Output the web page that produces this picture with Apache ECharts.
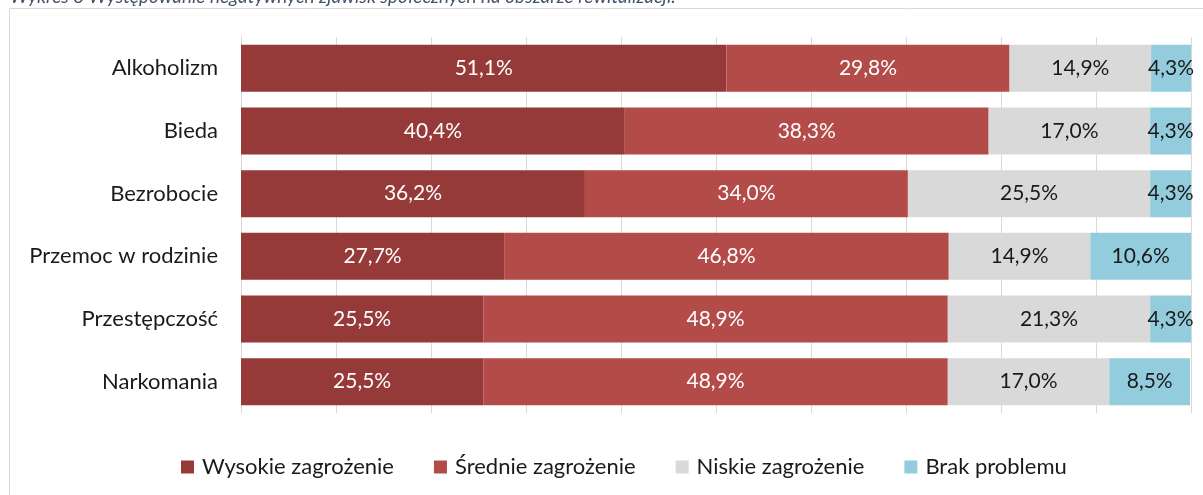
<!DOCTYPE html>
<html>
<head>
<meta charset="utf-8">
<script src="https://cdn.jsdelivr.net/npm/echarts@6/dist/echarts.min.js"></script>
<style>
  html, body { margin: 0; padding: 0; background: #fff; }
  #chart { width: 1203px; height: 495px; }
</style>
</head>
<body>
<div id="chart"></div>
<script>
const categories = ["Alkoholizm", "Bieda", "Bezrobocie", "Przemoc w rodzinie", "Przestępczość", "Narkomania"];
const wysokie = [51.1, 40.4, 36.2, 27.7, 25.5, 25.5];
const srednie = [29.8, 38.3, 34.0, 46.8, 48.9, 48.9];
const niskie = [14.9, 17.0, 25.5, 14.9, 21.3, 17.0];
const brak = [4.3, 4.3, 4.3, 10.6, 4.3, 8.5];
const titleText = "Wykres 8 Występowanie negatywnych zjawisk społecznych na obszarze rewitalizacji.";

const font = "Lato";
const mychart = echarts.init(document.getElementById("chart"));

// etykieta z przecinkiem dziesiętnym
const fmt = (p) => p.value.toFixed(1).replace(".", ",") + "%";

const makeSeries = (name, data, color, labelColor) => ({
  name: name,
  type: "bar",
  stack: "total",
  data: data,
  barCategoryGap: "25%",
  itemStyle: { color: color },
  label: {
    show: true,
    position: "inside",
    formatter: fmt,
    color: labelColor,
    fontFamily: font,
    fontSize: 21,
  },
});

const option = {
  animation: false,
  graphic: [
    {
      type: "rect",
      shape: { x: 9.5, y: 8.5, width: 1210, height: 500 },
      style: { fill: "none", stroke: "#d9d9d9", lineWidth: 1 },
    },
    {
      type: "text",
      left: 10,
      top: -13,
      style: {
        text: titleText,
        fill: "#44546a",
        fontFamily: font,
        fontStyle: "italic",
        fontSize: 19,
      },
    },
  ],
  grid: {
    left: 241,
    right: 12,
    top: 37,
    bottom: 82,
  },
  legend: {
    bottom: 12,
    left: 176,
    icon: "rect",
    itemWidth: 13,
    itemHeight: 13,
    itemGap: 40,
    textStyle: { fontFamily: font, fontSize: 22, color: "#1a1a1a", padding: [0, 0, 0, 3] },
    data: ["Wysokie zagrożenie", "Średnie zagrożenie", "Niskie zagrożenie", "Brak problemu"],
  },
  xAxis: {
    type: "value",
    min: 0,
    max: 100,
    interval: 10,
    axisLabel: { show: false },
    axisLine: { show: false },
    axisTick: { show: false },
    splitLine: { lineStyle: { color: "#d9d9d9", width: 1 } },
  },
  yAxis: {
    type: "category",
    inverse: true,
    data: categories,
    axisTick: { show: false },
    axisLine: { lineStyle: { color: "#d9d9d9" } },
    axisLabel: {
      margin: 23,
      color: "#1a1a1a",
      fontFamily: font,
      fontSize: 22,
    },
  },
  series: [
    makeSeries("Wysokie zagrożenie", wysokie, "#953a39", "#ffffff"),
    makeSeries("Średnie zagrożenie", srednie, "#b34b49", "#ffffff"),
    makeSeries("Niskie zagrożenie", niskie, "#d9d9d9", "#1a1a1a"),
    makeSeries("Brak problemu", brak, "#93cddd", "#1a1a1a"),
  ],
};
mychart.setOption(option);
</script>
</body>
</html>
